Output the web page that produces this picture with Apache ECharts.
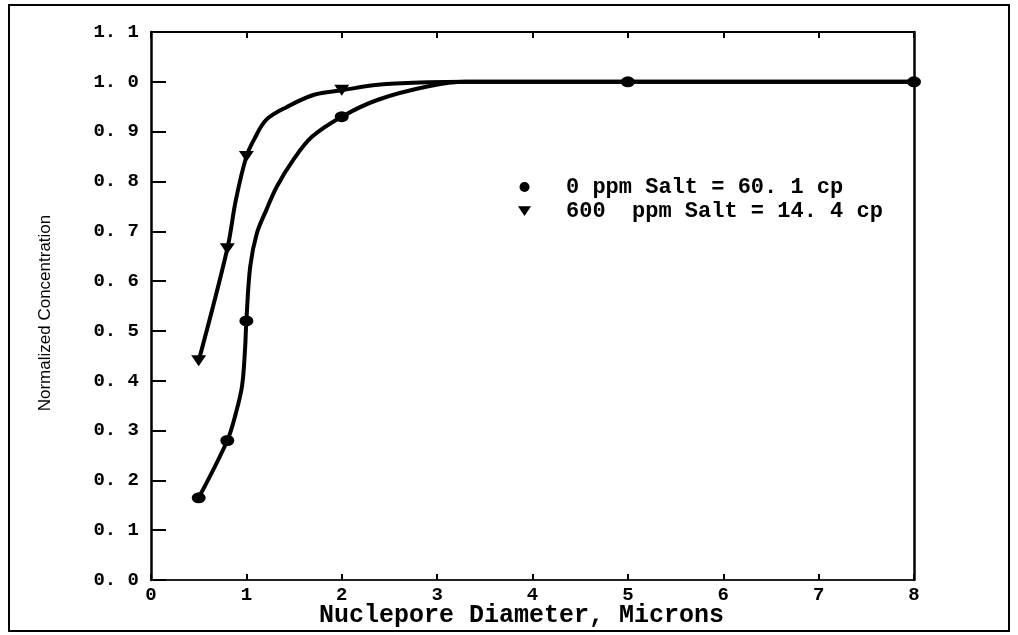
<!DOCTYPE html>
<html>
<head>
<meta charset="utf-8">
<script src="https://cdn.jsdelivr.net/npm/echarts@6/dist/echarts.min.js"></script>
<style>
  html, body { margin: 0; padding: 0; background: #fff; }
  #chart { width: 1018px; height: 635px; }
</style>
</head>
<body>
<div id="chart"></div>
<script>
// Axis tick labels
const xTickLabels = ['0', '1', '2', '3', '4', '5', '6', '7', '8'];
const yTickLabels = ['0. 0', '0. 1', '0. 2', '0. 3', '0. 4', '0. 5', '0. 6', '0. 7', '0. 8', '0. 9', '1. 0', '1. 1'];

// Series names
const saltFreeName = '0 ppm Salt = 60. 1 cp';
const saltName = '600  ppm Salt = 14. 4 cp';

// Measured points: [diameter (microns), normalized concentration]
const saltFreePoints = [[0.5, 0.165], [0.8, 0.28], [1.0, 0.52], [2.0, 0.93], [5.0, 1.0], [8.0, 1.0]];
const saltPoints = [[0.5, 0.44], [0.8, 0.665], [1.0, 0.85], [2.0, 0.983]];

// Hand-fitted curves through the measurements
const saltFreeCurve = [[0.5, 0.165], [0.8, 0.28], [0.89, 0.335], [0.955, 0.39], [0.985, 0.46], [1.0, 0.52],
  [1.04, 0.629], [1.11, 0.696], [1.21, 0.743], [1.32, 0.79], [1.49, 0.843], [1.69, 0.89], [2.0, 0.93],
  [2.38, 0.964], [2.91, 0.991], [3.3, 1.0], [5.0, 1.0], [8.0, 1.0]];
const saltCurve = [[0.5, 0.44], [0.8, 0.665], [0.89, 0.763], [1.0, 0.85], [1.08, 0.884], [1.21, 0.924],
  [1.43, 0.95], [1.71, 0.974], [2.0, 0.983], [2.38, 0.994], [2.91, 0.999], [3.3, 1.0], [8.0, 1.0]];

const monoFont = '"Liberation Mono", "DejaVu Sans Mono", monospace';
const downTriangle = 'path://M0,0 L12,0 L6,9 Z';

const chart = echarts.init(document.getElementById('chart'), null, { renderer: 'canvas' });

const curveStyle = { color: '#000', width: 4 };

chart.setOption({
  animation: false,
  backgroundColor: '#fff',
  grid: { left: 151, right: 104, top: 32, bottom: 55, containLabel: false, outerBoundsMode: 'none' },
  graphic: [{
    type: 'rect',
    shape: { x: 9, y: 5, width: 1000, height: 626 },
    style: { fill: 'none', stroke: '#000', lineWidth: 2 },
    silent: true
  }],
  legend: {
    orient: 'vertical',
    left: 513,
    top: 171,
    itemWidth: 13,
    itemHeight: 10,
    itemGap: 2,
    selectedMode: false,
    textStyle: {
      fontFamily: monoFont, fontWeight: 'bold', fontSize: 22, color: '#000',
      lineHeight: 22, padding: [0, 0, 0, 30]
    },
    data: [
      { name: saltFreeName, icon: 'circle', itemStyle: { color: '#000', opacity: 1 } },
      { name: saltName, icon: downTriangle, itemStyle: { color: '#000', opacity: 1 } }
    ]
  },
  xAxis: [{
    type: 'value',
    min: 0, max: 8, interval: 1,
    name: 'Nuclepore Diameter, Microns',
    nameLocation: 'middle',
    nameGap: 23,
    nameMoveOverlap: false,
    nameTextStyle: {
      fontFamily: monoFont, fontWeight: 'bold', fontSize: 25, color: '#000',
      padding: [0, 22, 0, 0]
    },
    axisLine: { show: true, onZero: false, lineStyle: { color: '#222', width: 2 } },
    axisTick: { show: true, inside: true, length: 6, lineStyle: { color: '#000', width: 2 } },
    axisLabel: {
      margin: 6, fontFamily: monoFont, fontWeight: 'bold', fontSize: 19, color: '#000',
      formatter: (v) => xTickLabels[Math.round(v)]
    },
    splitLine: { show: false }
  }, {
    type: 'value',
    position: 'top',
    min: 0, max: 8, interval: 1,
    axisLine: { show: true, onZero: false, lineStyle: { color: '#000', width: 2 } },
    axisTick: { show: true, inside: true, length: 6, lineStyle: { color: '#000', width: 2 } },
    axisLabel: { show: false },
    splitLine: { show: false }
  }],
  yAxis: [{
    type: 'value',
    min: 0, max: 1.1, interval: 0.1,
    name: 'Normalized Concentration',
    nameLocation: 'middle',
    nameGap: 97,
    nameMoveOverlap: false,
    nameTextStyle: {
      fontFamily: '"Liberation Sans Narrow", "Liberation Sans", sans-serif', fontSize: 17, color: '#000',
      padding: [0, 14, 0, 0]
    },
    axisLine: { show: true, onZero: false, lineStyle: { color: '#000', width: 2.5 } },
    axisTick: { show: true, inside: true, length: 15, lineStyle: { color: '#000', width: 2 } },
    axisLabel: {
      margin: 12, fontFamily: monoFont, fontWeight: 'bold', fontSize: 19, color: '#000',
      formatter: (v) => yTickLabels[Math.round(v * 10)]
    },
    splitLine: { show: false }
  }, {
    type: 'value',
    position: 'right',
    min: 0, max: 1.1, interval: 0.1,
    axisLine: { show: true, onZero: false, lineStyle: { color: '#000', width: 2.5 } },
    axisTick: { show: false },
    axisLabel: { show: false },
    splitLine: { show: false }
  }],
  series: [{
    name: 'saltFreeCurve',
    type: 'line',
    data: saltFreeCurve,
    smooth: 0.35,
    showSymbol: false,
    symbol: 'none',
    clip: false,
    silent: true,
    lineStyle: curveStyle,
    z: 2
  }, {
    name: 'saltCurve',
    type: 'line',
    data: saltCurve,
    smooth: 0.35,
    showSymbol: false,
    symbol: 'none',
    clip: false,
    silent: true,
    lineStyle: curveStyle,
    z: 2
  }, {
    name: saltFreeName,
    type: 'scatter',
    data: saltFreePoints,
    symbol: 'circle',
    symbolSize: [14, 11],
    clip: false,
    itemStyle: { color: '#000', opacity: 1 },
    z: 3
  }, {
    name: saltName,
    type: 'scatter',
    data: saltPoints,
    symbol: downTriangle,
    symbolSize: [15, 11],
    clip: false,
    itemStyle: { color: '#000', opacity: 1 },
    z: 3
  }]
});
</script>
</body>
</html>
